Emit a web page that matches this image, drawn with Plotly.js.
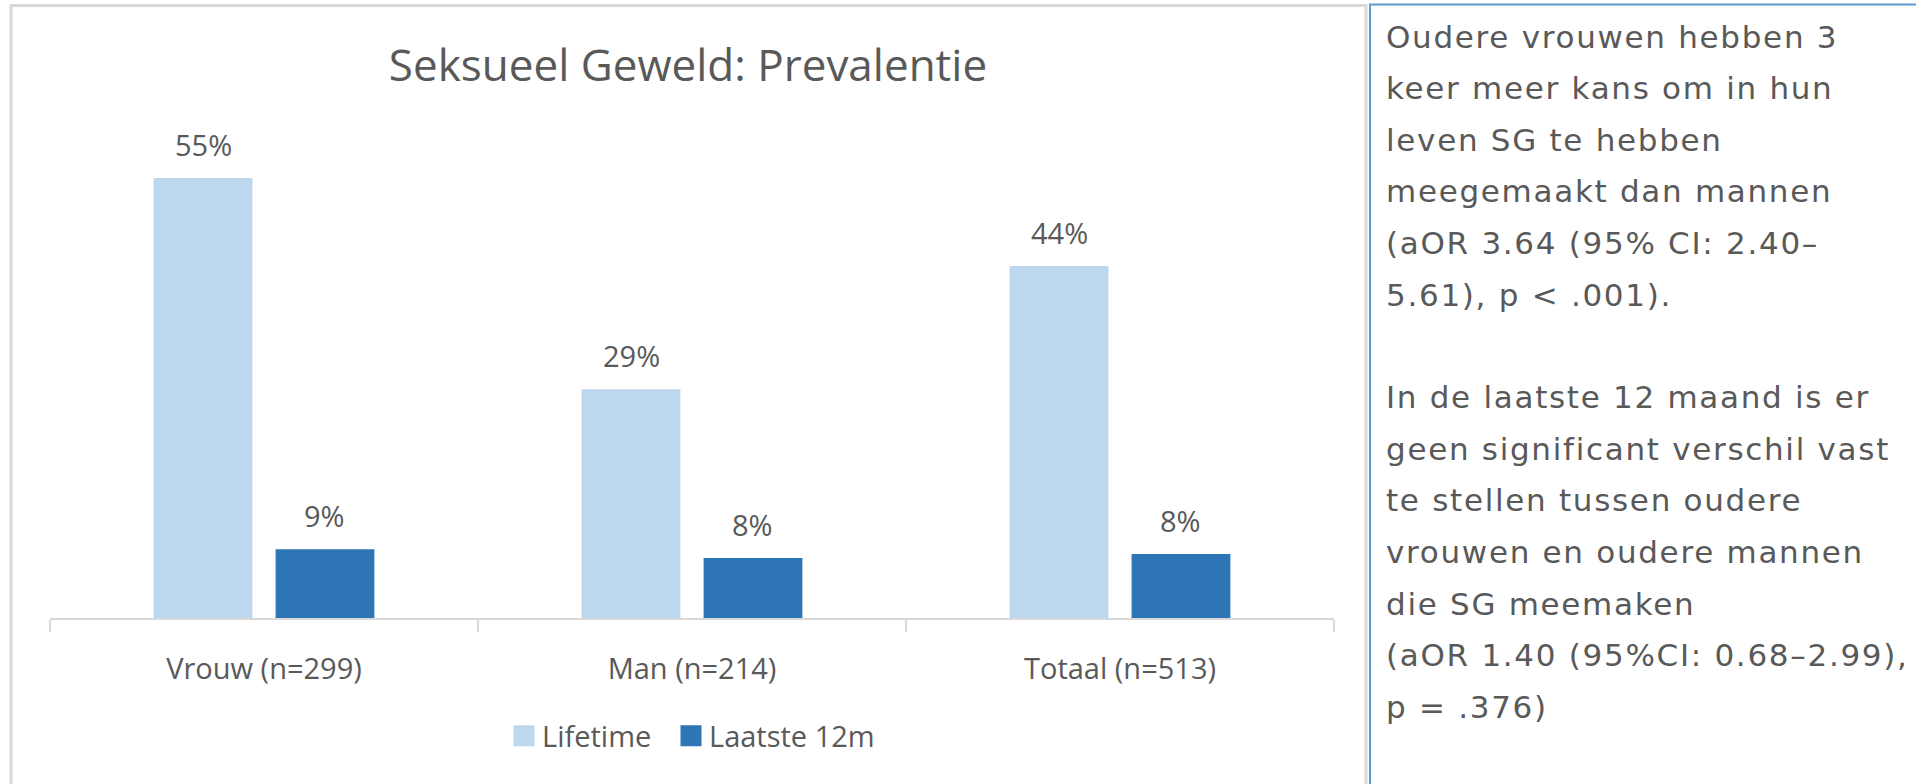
<!DOCTYPE html>
<html>
<head>
<meta charset="utf-8">
<script src="https://cdn.plot.ly/plotly-3.0.1.min.js"></script>
<style>
html,body{margin:0;padding:0;background:#fff;overflow:hidden}
.infolayer .legendpoints path{transform:translate(22px,0px) scale(1.75) !important}
</style>
</head>
<body>
<div id="chart" style="width:1916px;height:784px"></div>
<script>
// ---- data ----
const categories = ['Vrouw (n=299)', 'Man (n=214)', 'Totaal (n=513)'];
const seriesNames = ['Lifetime', 'Laatste 12m'];
const lifetimeValues = [55, 28.6, 44];
const last12mValues = [8.6, 7.5, 8.0];
const lifetimeLabels = ['55%', '29%', '44%'];
const last12mLabels = ['9%', '8%', '8%'];
const chartTitle = 'Seksueel Geweld: Prevalentie';
const noteLines = [
  'Oudere vrouwen hebben 3',
  'keer meer kans om in hun',
  'leven SG te hebben',
  'meegemaakt dan mannen',
  '(aOR 3.64 (95% CI: 2.40–',
  '5.61), p < .001).',
  '',
  'In de laatste 12 maand is er',
  'geen significant verschil vast',
  'te stellen tussen oudere',
  'vrouwen en oudere mannen',
  'die SG meemaken',
  '(aOR 1.40 (95%CI: 0.68–2.99),',
  'p = .376)'
];

// ---- layout helpers ----
const W = 1916, H = 784;
const px = x => x / W;
const py = y => 1 - y / H;
const plotLeft = 50, plotRight = 1334, baseY = 618, topY = 138;
const yMax = 60;
const bargap = 0.43, bargroupgap = 0.19;
const catW = (plotRight - plotLeft) / categories.length;
const slot = catW * (1 - bargap) / 2;
const textColor = '#595959';
const chartFont = 'Open Sans, Noto Sans, sans-serif';
const fs = 29;

const colors = ['#bdd7ee', '#2e75b6'];
const values = [lifetimeValues, last12mValues];
const labels = [lifetimeLabels, last12mLabels];
const legendIds = ['legend', 'legend2'];
const legendLeft = [502, 669];

const traces = seriesNames.map((name, s) => ({
  type: 'bar',
  name: name,
  x: categories,
  y: values[s],
  legend: legendIds[s],
  marker: {color: colors[s], line: {width: 0}},
  hoverinfo: 'skip'
}));

const annotations = [];
seriesNames.forEach((name, s) => {
  categories.forEach((c, i) => {
    annotations.push({
      x: c, y: values[s][i], xref: 'x', yref: 'y',
      text: labels[s][i], showarrow: false,
      xanchor: 'center', yanchor: 'bottom',
      xshift: (s === 0 ? -1 : 1) * slot / 2, yshift: 12,
      font: {family: chartFont, size: fs, color: textColor}
    });
  });
});
const noteStart = annotations.length;
const lineStep = 51.5;
noteLines.forEach((line, i) => {
  if (!line) return;
  annotations.push({
    xref: 'paper', yref: 'paper',
    x: px(1384), y: py(37 + i * lineStep),
    xanchor: 'left', yanchor: 'middle', align: 'left',
    text: line, showarrow: false,
    font: {family: 'DejaVu Sans, sans-serif', size: 31, color: textColor}
  });
});
// letter spacing for the note box lines
let css = '';
for (let k = noteStart; k < annotations.length; k++) {
  css += '.annotation[data-index="' + k + '"] text{letter-spacing:1.7px}\n';
}
const st = document.createElement('style');
st.textContent = css;
document.head.appendChild(st);

const legendBase = {
  orientation: 'h', xanchor: 'left', y: py(736), yanchor: 'middle',
  font: {family: chartFont, size: fs, color: textColor},
  bgcolor: 'rgba(0,0,0,0)', borderwidth: 0
};

const layout = {
  width: W, height: H,
  margin: {l: 0, r: 0, t: 0, b: 0, pad: 0},
  paper_bgcolor: '#ffffff', plot_bgcolor: '#ffffff',
  font: {family: chartFont, color: textColor},
  title: {
    text: chartTitle,
    font: {family: chartFont, size: 44, color: textColor},
    x: px(688), xanchor: 'center', xref: 'paper',
    y: py(66), yanchor: 'middle', yref: 'container'
  },
  barmode: 'group', bargap: bargap, bargroupgap: bargroupgap,
  xaxis: {
    domain: [px(plotLeft), px(plotRight)],
    showline: true, linecolor: '#d9d9d9', linewidth: 2,
    ticks: 'outside', tickson: 'boundaries', ticklen: 12, tickwidth: 2, tickcolor: '#d9d9d9',
    ticklabelstandoff: 24,
    tickfont: {family: chartFont, size: fs, color: textColor},
    showgrid: false, zeroline: false, fixedrange: true, automargin: false
  },
  yaxis: {
    domain: [py(baseY), py(topY)],
    range: [0, yMax], visible: false, showgrid: false, zeroline: false, fixedrange: true
  },
  showlegend: true,
  legend: Object.assign({}, legendBase, {x: px(legendLeft[0])}),
  legend2: Object.assign({}, legendBase, {x: px(legendLeft[1])}),
  shapes: [
    {type: 'rect', xref: 'paper', yref: 'paper', x0: px(11), x1: px(1366), y0: -0.05, y1: py(5.5),
     line: {color: '#d9d9d9', width: 3}, fillcolor: 'rgba(0,0,0,0)', layer: 'below'},
    {type: 'rect', xref: 'paper', yref: 'paper', x0: px(1370), x1: 1.05, y0: -0.05, y1: py(4.5),
     line: {color: '#5b9bd5', width: 2}, fillcolor: 'rgba(0,0,0,0)', layer: 'below'}
  ],
  annotations: annotations
};

Plotly.newPlot('chart', traces, layout, {displayModeBar: false, staticPlot: true});
</script>
</body>
</html>
